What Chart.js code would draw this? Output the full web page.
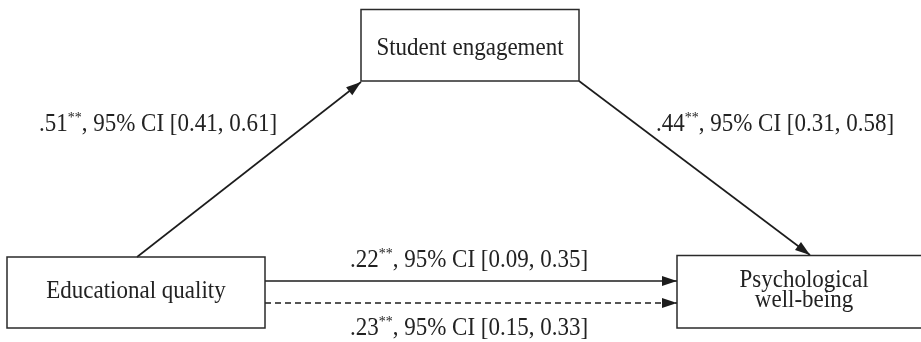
<!DOCTYPE html>
<html>
<head>
<meta charset="utf-8">
<script src="https://cdn.jsdelivr.net/npm/chart.js@4"></script>
<style>
  html, body { margin: 0; padding: 0; background: #fff; }
  #wrap { width: 921px; height: 342px; }
</style>
</head>
<body>
<div id="wrap"><canvas id="diagram" width="921" height="342"></canvas></div>
<script>
// Variables (nodes) and paths of the mediation model
const nodeLabels = [["Educational quality"], ["Student engagement"], ["Psychological", "well-being"]];
const pathFrom = [0, 1, 0, 0];
const pathTo = [1, 2, 2, 2];
const pathCoef = [".51", ".44", ".22", ".23"];
const pathStars = ["**", "**", "**", "**"];
const pathCILow = ["0.41", "0.31", "0.09", "0.15"];
const pathCIHigh = ["0.61", "0.58", "0.35", "0.33"];

// Layout of the drawing (diagram units = px of the 921x342 figure)
const layout = {
  boxes: [
    { x0: 7, x1: 265, y0: 257, y1: 328, textX: 136, baselines: [298] },
    { x0: 361, x1: 579, y0: 9.5, y1: 81, textX: 470, baselines: [55] },
    { x0: 677, x1: 940, y0: 255.5, y1: 328, textX: 804, baselines: [287, 307] }
  ],
  paths: [
    { from: [137, 257], to: [361, 82], label: [158, 131], dashed: false },
    { from: [579, 81], to: [810, 255], label: [775, 131], dashed: false },
    { from: [265, 281], to: [677, 281], label: [469, 267], dashed: false },
    { from: [265, 303], to: [677, 303], label: [469, 335], dashed: true }
  ]
};

const ink = "#1c1c1c";
const font = '"Liberation Serif", "Times New Roman", serif';
const fontSize = 23;
const stretchY = 1.1; // glyphs in the figure are a little taller than plain Times

const datasets = pathFrom.map((f, i) => {
  const p = layout.paths[i];
  return {
    label: nodeLabels[f].join(" ") + " -> " + nodeLabels[pathTo[i]].join(" "),
    data: [{ x: p.from[0], y: p.from[1] }, { x: p.to[0], y: p.to[1] }],
    showLine: true,
    borderColor: ink,
    borderWidth: 1.6,
    borderDash: p.dashed ? [6, 4] : [],
    pointRadius: 0,
    fill: false
  };
});

function tallText(ctx, t, x, y) {
  ctx.save();
  ctx.translate(x, y);
  ctx.scale(1, stretchY);
  ctx.fillText(t, 0, 0);
  ctx.restore();
}

const diagramPlugin = {
  id: "diagram",
  beforeDraw(chart) {
    const ctx = chart.ctx;
    ctx.save();
    ctx.fillStyle = "#fff";
    ctx.fillRect(0, 0, chart.width, chart.height);
    ctx.restore();
  },
  afterDatasetsDraw(chart) {
    const ctx = chart.ctx;
    const sx = chart.scales.x, sy = chart.scales.y;
    const X = v => sx.getPixelForValue(v);
    const Y = v => sy.getPixelForValue(v);
    ctx.save();

    // boxes and their labels
    layout.boxes.forEach((b, i) => {
      ctx.strokeStyle = "#2a2a2a";
      ctx.lineWidth = 1.5;
      ctx.strokeRect(X(b.x0), Y(b.y0), X(b.x1) - X(b.x0), Y(b.y1) - Y(b.y0));
      ctx.fillStyle = "#222";
      ctx.font = fontSize + "px " + font;
      ctx.textAlign = "center";
      ctx.textBaseline = "alphabetic";
      nodeLabels[i].forEach((line, k) => tallText(ctx, line, X(b.textX), Y(b.baselines[k])));
    });

    // arrowheads
    layout.paths.forEach(p => {
      const x1 = X(p.from[0]), y1 = Y(p.from[1]);
      const x2 = X(p.to[0]), y2 = Y(p.to[1]);
      const a = Math.atan2(y2 - y1, x2 - x1);
      const len = 15, half = 5;
      ctx.fillStyle = ink;
      ctx.beginPath();
      ctx.moveTo(x2, y2);
      ctx.lineTo(x2 - len * Math.cos(a) + half * Math.sin(a), y2 - len * Math.sin(a) - half * Math.cos(a));
      ctx.lineTo(x2 - len * Math.cos(a) - half * Math.sin(a), y2 - len * Math.sin(a) + half * Math.cos(a));
      ctx.closePath();
      ctx.fill();
    });

    // path labels: coef^stars, 95% CI [lo, hi]
    layout.paths.forEach((p, i) => {
      const main = fontSize + "px " + font;
      const sup = Math.round(fontSize * 0.62) + "px " + font;
      const rest = ", 95% CI [" + pathCILow[i] + ", " + pathCIHigh[i] + "]";
      ctx.font = main;
      const w1 = ctx.measureText(pathCoef[i]).width;
      const w3 = ctx.measureText(rest).width;
      ctx.font = sup;
      const w2 = ctx.measureText(pathStars[i]).width;
      let x = X(p.label[0]) - (w1 + w2 + w3) / 2;
      const y = Y(p.label[1]);
      ctx.fillStyle = "#222";
      ctx.textAlign = "left";
      ctx.textBaseline = "alphabetic";
      ctx.font = main;
      tallText(ctx, pathCoef[i], x, y);
      x += w1;
      ctx.font = sup;
      tallText(ctx, pathStars[i], x, y - fontSize * 0.4);
      x += w2;
      ctx.font = main;
      tallText(ctx, rest, x, y);
    });
    ctx.restore();
  }
};

new Chart(document.getElementById("diagram"), {
  type: "scatter",
  data: { datasets },
  options: {
    responsive: false,
    animation: false,
    layout: { padding: 0 },
    plugins: { legend: { display: false }, tooltip: { enabled: false } },
    scales: {
      x: { type: "linear", min: 0, max: 921, display: false },
      y: { type: "linear", min: 0, max: 342, reverse: true, display: false }
    }
  },
  plugins: [diagramPlugin]
});
</script>
</body>
</html>
